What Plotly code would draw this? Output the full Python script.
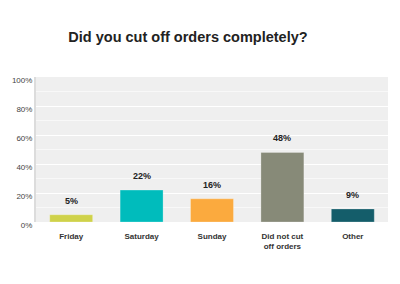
import plotly.graph_objects as go

categories = ["Friday", "Saturday", "Sunday", "Did not cut<br>off orders", "Other"]
values = [0.05, 0.22, 0.16, 0.48, 0.09]
labels = ["5%", "22%", "16%", "48%", "9%"]
colors = ["#cfd24a", "#00bcbc", "#fbaa3e", "#878a78", "#145d6a"]
tick_vals = [0, 0.2, 0.4, 0.6, 0.8, 1.0]
tick_text = ["0%", "20%", "40%", "60%", "80%", "100%"]

fig = go.Figure(go.Bar(
    x=categories, y=values,
    marker=dict(color=colors, line=dict(color="rgba(255,255,255,0.5)", width=0.5)),
))

for c, v, t in zip(categories, values, labels):
    fig.add_annotation(x=c, y=v, text="<b>" + t + "</b>", showarrow=False,
                       yanchor="middle", yshift=14,
                       font=dict(family="Liberation Sans, Arial", size=9, color="#222222"))

fig.update_layout(
    width=400, height=284,
    margin=dict(l=27, r=12, t=77, b=62),
    paper_bgcolor="white", plot_bgcolor="#efefef",
    bargap=0.39,
    showlegend=False,
    title=dict(text="<b>Did you cut off orders completely?</b>", x=0.47, xanchor="center",
               y=0.87, yanchor="middle",
               font=dict(family="Liberation Sans, Arial", size=14.5, color="#222222")),
    font=dict(family="Liberation Sans, Arial", size=8, color="#444444"),
)
fig.update_xaxes(showgrid=False, tickfont=dict(size=8, color="#333333"), ticks="",
                 tickprefix="<b>", ticksuffix="</b>", showline=False,
                 ticklabelstandoff=8)
fig.update_yaxes(range=[0, 1.0], tickvals=tick_vals, ticktext=tick_text,
                 showgrid=True, gridcolor="white", gridwidth=1,
                 minor=dict(dtick=0.1, showgrid=True, gridcolor="#f8f8f8", gridwidth=1),
                 zeroline=False, showline=True, linecolor="#dcdcdc", linewidth=2,
                 tickfont=dict(size=8, color="#444444"), ticks="",
                 ticklabelshift=3)

fig.write_html("out.html")
